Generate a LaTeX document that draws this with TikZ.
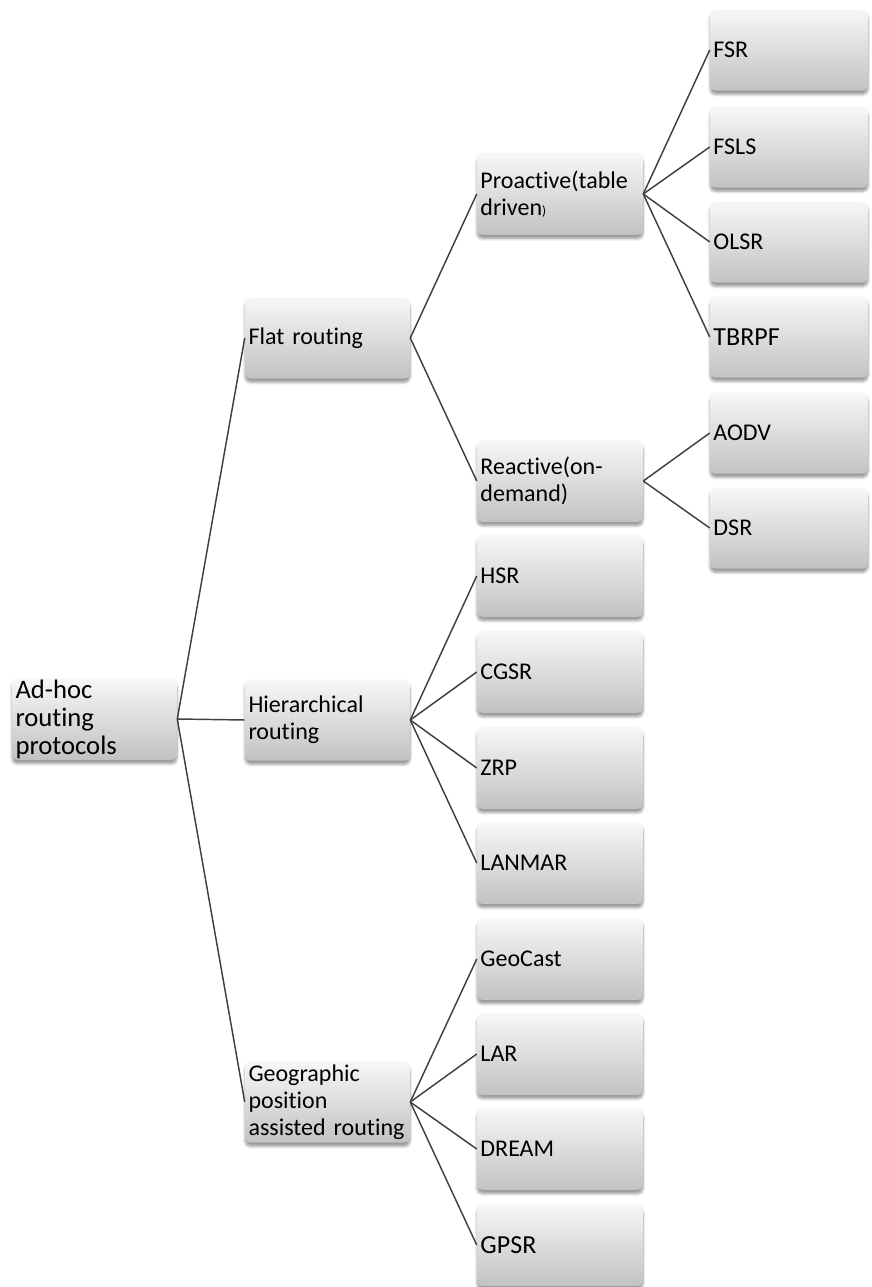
\documentclass[tikz,border=0pt]{standalone}
\usepackage{fontspec}
\setmainfont{Carlito}[Ligatures=NoCommon]
\usetikzlibrary{shadows.blur}
\begin{document}
\begin{tikzpicture}[x=0.75pt,y=-0.75pt,
  boxbase/.style={rectangle, rounded corners=4pt, inner xsep=2.6pt, inner ysep=0pt,
    align=left, anchor=center,
    top color=white!97!black, middle color=white!91!black, bottom color=white!76!black,
    blur shadow={shadow xshift=0pt, shadow yshift=-2.8pt, shadow blur steps=6, shadow opacity=40},
    font=\fontsize{18}{20.25}\selectfont},
  rootbox/.style={boxbase, minimum width=123.75pt, minimum height=61.5pt, text width=118.5pt,
    font=\fontsize{20}{21}\selectfont},
  levelbox/.style={boxbase, minimum width=123.75pt, minimum height=61pt, text width=118.5pt},
  subbox/.style={boxbase, minimum width=124.5pt, minimum height=61.5pt, text width=119.3pt},
  leafbox/.style={boxbase, minimum width=118.5pt, minimum height=61pt, text width=113.3pt},
  link/.style={draw=black!75, line width=1.1pt}]
\useasboundingbox (0,0) rectangle (871,1287);

% root
\node[rootbox] (root) at (94.5,719) {Ad-hoc\\routing\\protocols};

% first level
\node[levelbox] (flat) at (327.5,338) {Flat routing};
\node[levelbox] (hier) at (327.5,720) {Hierarchical\\routing};
\node[levelbox] (geo)  at (327.5,1102) {Geographic\\position\\assisted routing};

% second level
\node[subbox] (pro)     at (560,194)  {Proactive(table\\driven{\fontsize{10}{12}\selectfont)}};
\node[subbox] (rea)     at (560,481)  {Reactive(on-\\demand)};
\node[subbox] (hsr)     at (560,576)  {HSR};
\node[subbox] (cgsr)    at (560,672)  {CGSR};
\node[subbox] (zrp)     at (560,768)  {ZRP};
\node[subbox] (lanmar)  at (560,863)  {LANMAR};
\node[subbox] (geocast) at (560,959)  {GeoCast};
\node[subbox] (lar)     at (560,1054) {LAR};
\node[subbox] (dream)   at (560,1149) {DREAM};
\node[subbox] (gpsr)    at (560,1245) {\fontsize{19.5}{21}\selectfont GPSR};

% leaves
\node[leafbox] (fsr)   at (789,50)  {FSR};
\node[leafbox] (fsls)  at (789,147) {FSLS};
\node[leafbox] (olsr)  at (789,242) {OLSR};
\node[leafbox] (tbrpf) at (789,337) {\fontsize{19.5}{21}\selectfont TBRPF};
\node[leafbox] (aodv)  at (789,433) {AODV};
\node[leafbox] (dsr)   at (789,528) {DSR};

% connectors
\foreach \c in {flat,hier,geo} \draw[link] (root.east) -- (\c.west);
\foreach \c in {pro,rea} \draw[link] (flat.east) -- (\c.west);
\foreach \c in {hsr,cgsr,zrp,lanmar} \draw[link] (hier.east) -- (\c.west);
\foreach \c in {geocast,lar,dream,gpsr} \draw[link] (geo.east) -- (\c.west);
\foreach \c in {fsr,fsls,olsr,tbrpf} \draw[link] (pro.east) -- (\c.west);
\foreach \c in {aodv,dsr} \draw[link] (rea.east) -- (\c.west);
\end{tikzpicture}
\end{document}
